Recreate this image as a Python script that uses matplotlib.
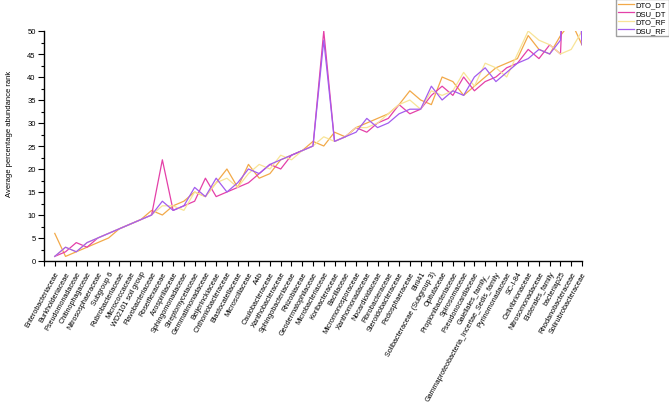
import matplotlib.pyplot as plt
from matplotlib.ticker import MultipleLocator

plt.rcParams['font.family'] = ['Liberation Sans', 'DejaVu Sans']

families = ['Enterobacteriaceae', 'Burkholderiaceae', 'Pseudomonadaceae', 'Chitinophagaceae',
            'Nitrososphaeraceae', 'Subgroup 6', 'Rubrobacteriaceae', 'Micrococcaceae',
            'WD2101 soil group', 'Flavobacteriaceae', 'Roseiflexaceae', 'Azospirillaceae',
            'Sphingomonadaceae', 'Streptomycetaceae', 'Gemmatimonadaceae', 'Beijerinckiaceae',
            'Chthoniobacteraceae', 'Blastocatellaceae', 'Microscillaceae', 'A4b',
            'Caulobacteraceae', 'Xanthobacteraceae', 'Sphingobacteriaceae', 'Rhizobiaceae',
            'Geodermatophilaceae', 'Microbacteriaceae', 'Koribacteraceae', 'Bacillaceae',
            'Micromonosporaceae', 'Xanthomonadaceae', 'Nocardioidaceae', 'Fibrobacteraceae',
            'Steroidobacteraceae', 'Pedosphaeraceae', 'Blrii41', 'Solibacteraceae (Subgroup 3)',
            'Opitutaceae', 'Propionibacteriaceae', 'Spirosomaceae', 'Pseudonocardiaceae',
            'Gaiellales_family_', 'Gammaproteobacteria_Incertae_Sedis_family', 'Pyrinomonadaceae',
            'SC-I-84', 'Cellvibrionaceae', 'Nitrosomonadaceae', 'Elsterales_family',
            'bacteriap25', 'Rhodanobacteraceae', 'Solirubrobacteraceae']

dto_dt = [6, 1, 2, 3, 4, 5, 7, 8, 9, 11, 10, 12, 13, 15, 14, 17, 20, 16, 21, 18,
          19, 22, 23, 24, 26, 25, 28, 27, 29, 30, 31, 32, 34, 37, 35, 34, 40, 39, 36, 38,
          40, 42, 43, 44, 49, 46, 45, 49, 52, 47]
dsu_dt = [1, 2, 4, 3, 5, 6, 7, 8, 9, 10, 22, 11, 12, 13, 18, 14, 15, 16, 17, 19,
          21, 20, 23, 24, 25, 50, 26, 27, 29, 28, 30, 31, 34, 32, 33, 36, 38, 36, 40, 37,
          39, 40, 42, 43, 46, 44, 47, 45, 100, 48]
dto_rf = [1, 3, 2, 4, 5, 6, 7, 8, 9, 10, 12, 12, 11, 15, 14, 17, 18, 16, 19, 21,
          20, 23, 22, 24, 25, 27, 26, 27, 29, 29, 30, 32, 34, 35, 33, 37, 36, 37, 41, 38,
          43, 42, 40, 45, 50, 48, 47, 45, 46, 50]
dsu_rf = [1, 3, 2, 4, 5, 6, 7, 8, 9, 10, 13, 11, 12, 16, 14, 18, 15, 17, 20, 19,
          21, 22, 23, 24, 25, 48, 26, 27, 28, 31, 29, 30, 32, 33, 33, 38, 35, 37, 36, 40,
          42, 39, 41, 43, 44, 46, 45, 48, 100, 47]

fig = plt.figure(figsize=(6.69, 4.10), dpi=100)
ax = fig.add_axes([44 / 669, 148 / 410, 538 / 669, 230 / 410])

x = range(len(families))
ax.plot(x, dto_dt, color='#F2A949', lw=0.9, label='DTO_DT')
ax.plot(x, dsu_dt, color='#E440A8', lw=0.9, label='DSU_DT')
ax.plot(x, dto_rf, color='#F8E497', lw=0.9, label='DTO_RF')
ax.plot(x, dsu_rf, color='#A35CEE', lw=0.9, label='DSU_RF')

ax.set_xlim(-1, 49)
ax.set_ylim(0, 50)
ax.set_xticks(range(-1, 50))
ax.set_xticklabels([''] + families, rotation=61, ha='right', rotation_mode='anchor', fontsize=5.2)
ax.yaxis.set_major_locator(MultipleLocator(5))
ax.yaxis.set_minor_locator(MultipleLocator(2.5))
ax.tick_params(axis='y', which='major', length=4, width=0.8, labelsize=5.5, pad=2)
ax.tick_params(axis='y', which='minor', length=2.5, width=0.8)
ax.tick_params(axis='x', length=3.5, width=0.8, pad=3)
for s in ['top', 'right']:
    ax.spines[s].set_visible(False)
for s in ['left', 'bottom']:
    ax.spines[s].set_linewidth(1.0)

ax.set_ylabel('Average percentage abundance rank', fontsize=5.5)
ax.yaxis.set_label_coords(-0.058, 0.557)

fig.legend(loc='upper left', bbox_to_anchor=(616 / 669, 1.0), fontsize=5.5, frameon=True,
           fancybox=False, edgecolor='#888888', handlelength=2.0, labelspacing=0.15,
           borderpad=0.3, handletextpad=0.3, borderaxespad=0)

fig.savefig('out.png', dpi=100)
